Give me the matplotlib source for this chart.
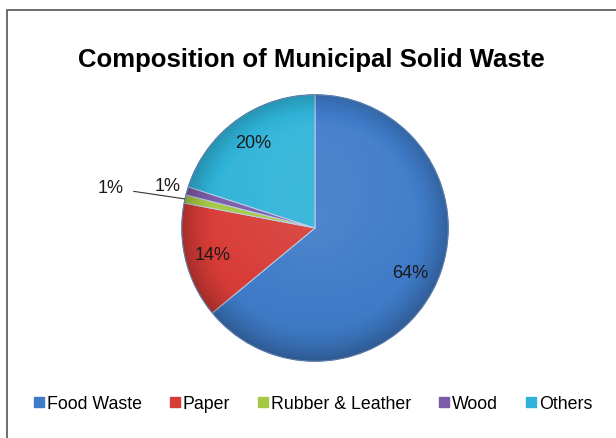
import numpy as np
import matplotlib.pyplot as plt
from matplotlib.patches import Rectangle, Circle
from matplotlib.lines import Line2D

plt.rcParams['font.family'] = ['Liberation Sans', 'DejaVu Sans']

# composition data (percent)
categories = ['Food Waste', 'Paper', 'Rubber & Leather', 'Wood', 'Others']
shares = [64, 14, 1, 1, 20]
colors = ['#3f7bc8', '#d83c37', '#a6c945', '#7c5ba8', '#2fb3d8']

fig = plt.figure(figsize=(6.16, 4.39), dpi=100)

# outer chart frame (left and top edges visible)
fig.patches.append(Rectangle((7 / 616, -0.1), 1.2, 1.1 - 11 / 439,
                             transform=fig.transFigure, fill=False,
                             edgecolor='#555555', linewidth=1.2))

fig.text(0.506, 0.863, 'Composition of Municipal Solid Waste',
         ha='center', va='center', fontsize=18.5, fontweight='bold')

ax = fig.add_axes([(315 - 136) / 616, (439 - 365) / 439, 272 / 616, 272 / 439])
wedges, _ = ax.pie(shares, colors=colors, startangle=90, counterclock=False,
                   radius=1, wedgeprops=dict(edgecolor='#b9cde8', linewidth=0.7))
ax.set_xlim(-1.02, 1.02)
ax.set_ylim(-1.02, 1.02)

# soft bevel shading: darker towards the rim, slightly lighter inside
n = 400
xs = np.linspace(-1, 1, n)
X, Y = np.meshgrid(xs, xs)
R = np.sqrt(X ** 2 + Y ** 2)
dark = 0.22 * np.clip((R - 0.75) / 0.25, 0, 1) ** 1.5 + 0.05 * np.clip(-Y, 0, 1)
light = 0.08 * np.clip(1 - R, 0, 1) + 0.05 * np.clip(Y, 0, 1)
s = light - dark
shade = np.zeros((n, n, 4))
shade[..., :3] = (s > 0)[..., None].astype(float)
shade[..., 3] = np.abs(s)
im = ax.imshow(shade, extent=(-1, 1, -1, 1), origin='lower', zorder=3,
               interpolation='bilinear')
im.set_clip_path(Circle((0, 0), 1, transform=ax.transData))
ax.add_patch(Circle((0, 0), 1, fill=False, edgecolor='#4e6e9e',
                    linewidth=0.6, zorder=4))

# percentage labels
for w, v, cat in zip(wedges, shares, categories):
    mid = np.deg2rad((w.theta1 + w.theta2) / 2)
    if v >= 5:
        ax.text(0.79 * np.cos(mid), 0.79 * np.sin(mid), f'{v}%',
                ha='center', va='center', fontsize=13, color='#1a1a1a', zorder=5)
    elif cat == 'Wood':
        ax.text(1.15 * np.cos(mid), 1.15 * np.sin(mid), f'{v}%',
                ha='center', va='center', fontsize=13, color='#1a1a1a', zorder=5)
    else:
        rim = (np.cos(mid), np.sin(mid))
        ax.annotate(f'{v}%', xy=rim, xytext=(-1.53, 0.30),
                    ha='center', va='center', fontsize=13, color='#1a1a1a',
                    annotation_clip=False, zorder=5,
                    arrowprops=dict(arrowstyle='-', color='#333333', lw=0.8,
                                    shrinkA=5, shrinkB=0))

handles = [Line2D([], [], marker='s', linestyle='none', markersize=7,
                  markerfacecolor=c, markeredgecolor=c) for c in colors]
fig.legend(handles, categories, loc='center', bbox_to_anchor=(0.508, 0.079),
           ncol=5, frameon=False, fontsize=12.8, handlelength=0.6,
           handletextpad=0.15, columnspacing=1.55)

fig.savefig('out.png', dpi=100)
